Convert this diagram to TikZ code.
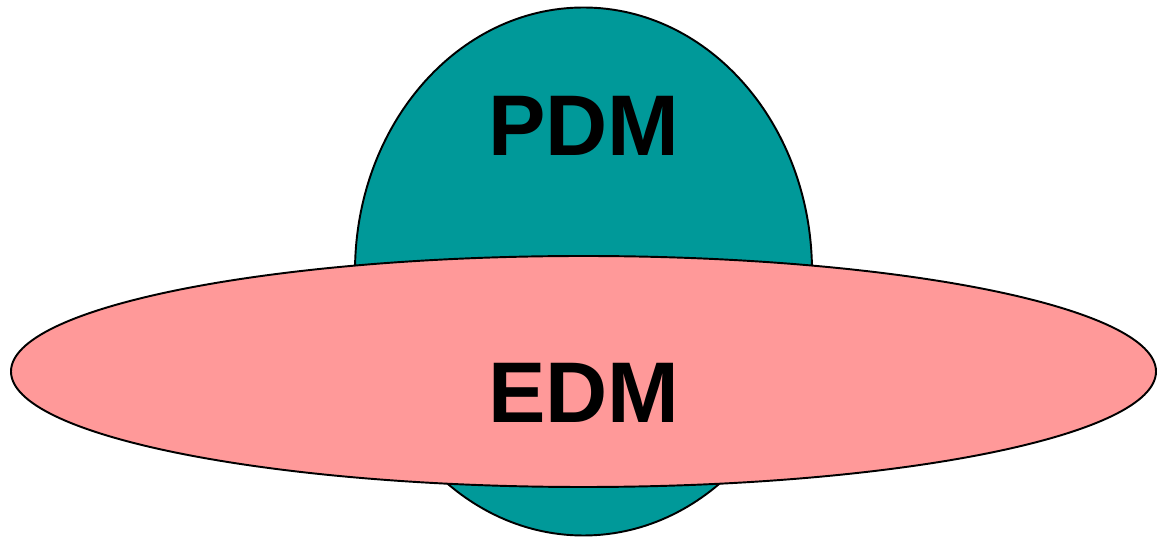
\documentclass[tikz,border=0pt]{standalone}
\usepackage{fontspec}
\setmainfont{Liberation Sans}
\definecolor{pdmteal}{HTML}{009999}
\definecolor{edmpink}{HTML}{FF9999}

\begin{document}
\begin{tikzpicture} [line width=1.1pt]
        \useasboundingbox (0, 0) rectangle (23.18, 10.74);
        \filldraw [fill=pdmteal] (11.67, 5.31) ellipse [x radius=4.57cm, y radius=5.28cm];
        \node (pdm) [font=\fontsize{49}{56}\selectfont\bfseries] at (11.68, 8.22) {PDM};
        \filldraw [fill=edmpink] (11.67, 3.31) ellipse [x radius=11.45cm, y radius=2.31cm];
        \node (edm) [font=\fontsize{49}{56}\selectfont\bfseries] at (11.68, 2.88) {EDM};
    \end{tikzpicture}
\end{document}
